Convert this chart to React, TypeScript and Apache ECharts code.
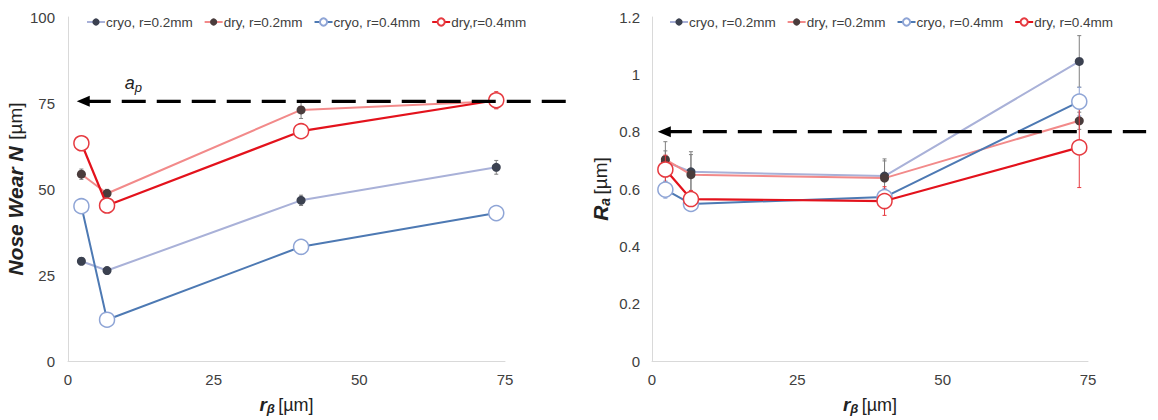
import React, { useEffect, useRef } from "react";
import * as echarts from "echarts";

// r_beta positions (µm)
const rBeta = [2.3, 6.7, 40, 73.5];

// Left chart: Nose wear N [µm]
const noseCryo02 = [29, 26.3, 46.7, 56.3];
const noseDry02 = [54.3, 48.7, 73, 75.5];
const noseCryo04 = [45, 12, 33.2, 43];
const noseDry04 = [63.3, 45.2, 66.8, 75.8];
const noseErrCryo02 = [1, 1, 1.5, 2];
const noseErrDry02 = [1.5, 1.2, 2.5, 2];
const noseErrCryo04 = [0.6, 0.6, 1, 1];
const noseErrDry04 = [1, 1, 1.5, 2.5];

// Right chart: Ra [µm]
const raCryo02 = [0.695, 0.66, 0.645, 1.045];
const raDry02 = [0.703, 0.65, 0.638, 0.838];
const raCryo04 = [0.598, 0.548, 0.572, 0.905];
const raDry04 = [0.668, 0.565, 0.558, 0.745];
const raErrCryo02 = [0.07, 0.07, 0.06, 0.09];
const raErrDry02 = [0.03, 0.07, 0.06, 0.03];
const raErrCryo04 = [0.03, 0.02, 0.03, 0.05];
const raErrDry04 = [0.05, 0.03, 0.05, 0.14];

const apValue = 75.5;
const raLimit = 0.8;

const namesLeft = ["cryo, r=0.2mm", "dry, r=0.2mm", "cryo, r=0.4mm", "dry,r=0.4mm"];
const namesRight = ["cryo, r=0.2mm", "dry, r=0.2mm", "cryo, r=0.4mm", "dry, r=0.4mm"];

const FONT = "'Liberation Sans', Arial, sans-serif";
const AXIS_GRAY = "#d9d9d9";
const LABEL = "#404040";

const styles = [
  { line: "#a9b1d8", width: 2, marker: "#3b4150", hollow: false, border: "#3b4150", err: "#7f7f7f" },
  { line: "#f28a8a", width: 2, marker: "#4a3c3c", hollow: false, border: "#4a3c3c", err: "#7f7f7f" },
  { line: "#4d79b3", width: 2, marker: "#ffffff", hollow: true, border: "#8fa5d6", err: "#8fa5d6" },
  { line: "#e3121c", width: 2.2, marker: "#ffffff", hollow: true, border: "#e63a40", err: "#e63a40" },
];

function lineSeries(name: string, ys: number[], idx: number, grid: number) {
  const s = styles[idx];
  return {
    type: "line",
    name,
    xAxisIndex: grid,
    yAxisIndex: grid,
    data: rBeta.map((x, i) => [x, ys[i]]),
    symbol: "circle",
    symbolSize: s.hollow ? 15 : 9,
    showSymbol: true,
    lineStyle: { color: s.line, width: s.width },
    itemStyle: { color: s.marker, borderColor: s.border, borderWidth: s.hollow ? 1.5 : 0 },
    z: 3 + idx,
    emphasis: { disabled: true },
  };
}

function errSeries(ys: number[], errs: number[], idx: number, grid: number) {
  const s = styles[idx];
  return {
    type: "custom",
    name: "err" + grid + idx,
    xAxisIndex: grid,
    yAxisIndex: grid,
    data: rBeta.map((x, i) => [x, ys[i], errs[i]]),
    encode: { x: 0, y: 1 },
    z: 2 + idx,
    renderItem: (params: any, api: any) => {
      const x = api.value(0);
      const y = api.value(1);
      const e = api.value(2);
      const hi = api.coord([x, y + e]);
      const lo = api.coord([x, y - e]);
      const st = { stroke: s.err, lineWidth: 1 };
      return {
        type: "group",
        children: [
          { type: "line", shape: { x1: hi[0], y1: hi[1], x2: lo[0], y2: lo[1] }, style: st },
          { type: "line", shape: { x1: hi[0] - 2, y1: hi[1], x2: hi[0] + 2, y2: hi[1] }, style: st },
          { type: "line", shape: { x1: lo[0] - 2, y1: lo[1], x2: lo[0] + 2, y2: lo[1] }, style: st },
        ],
      };
    },
  };
}

function xAxis(grid: number) {
  return {
    type: "value",
    gridIndex: grid,
    min: 0,
    max: 75,
    interval: 25,
    axisLine: { show: true, lineStyle: { color: AXIS_GRAY, width: 1 } },
    axisTick: { show: false },
    splitLine: { show: false },
    axisLabel: { color: LABEL, fontSize: 15, fontFamily: FONT, margin: 11 },
    name: "{b|r}{s|β} {n|[µm]}",
    nameLocation: "middle",
    nameGap: 33,
    nameTextStyle: {
      rich: {
        b: { fontSize: 19, fontWeight: "bold", fontStyle: "italic", color: "#222", fontFamily: FONT },
        s: { fontSize: 13, fontWeight: "bold", fontStyle: "italic", color: "#222", fontFamily: FONT, padding: [8, 0, 0, 0] },
        n: { fontSize: 18, color: "#222", fontFamily: FONT },
      },
    },
  };
}

export default function App() {
  const ref = useRef<HTMLDivElement>(null);
  useEffect(() => {
    document.body.style.margin = "0";
    const chart = echarts.init(ref.current!, undefined, { renderer: "svg" });
    const leftVals = [noseCryo02, noseDry02, noseCryo04, noseDry04];
    const leftErrs = [noseErrCryo02, noseErrDry02, noseErrCryo04, noseErrDry04];
    const rightVals = [raCryo02, raDry02, raCryo04, raDry04];
    const rightErrs = [raErrCryo02, raErrDry02, raErrCryo04, raErrDry04];
    const series: any[] = [];
    leftVals.forEach((v, i) => series.push(errSeries(v, leftErrs[i], i, 0)));
    rightVals.forEach((v, i) => series.push(errSeries(v, rightErrs[i], i, 1)));
    leftVals.forEach((v, i) => series.push(lineSeries(namesLeft[i], v, i, 0)));
    rightVals.forEach((v, i) => series.push(lineSeries(namesRight[i], v, i, 1)));

    const legendCommon = {
      top: 10,
      itemWidth: 18,
      itemHeight: 9,
      itemGap: 11,
      textStyle: { color: LABEL, fontSize: 13.5, fontFamily: FONT, padding: [0, 0, 0, -4] },
      selectedMode: false,
    };

    chart.setOption({
      animation: false,
      backgroundColor: "#ffffff",
      textStyle: { fontFamily: FONT },
      grid: [
        { left: 68, top: 17, width: 437, height: 351 },
        { left: 652, top: 17, width: 436, height: 351 },
      ],
      legend: [
        { ...legendCommon, left: 81, data: namesLeft },
        { ...legendCommon, left: 664, data: namesRight },
      ],
      xAxis: [xAxis(0), xAxis(1)],
      yAxis: [
        {
          type: "value",
          gridIndex: 0,
          min: 0,
          max: 100,
          interval: 25,
          axisLine: { show: true, lineStyle: { color: AXIS_GRAY, width: 1 } },
          axisTick: { show: false },
          splitLine: { show: false },
          axisLabel: { color: LABEL, fontSize: 15, fontFamily: FONT, margin: 13 },
          name: "{b|Nose Wear N}  {n|[µm]}",
          nameLocation: "middle",
          nameGap: 38,
          nameTextStyle: {
            rich: {
              b: { fontSize: 21, fontWeight: "bold", fontStyle: "italic", color: "#222", fontFamily: FONT },
              n: { fontSize: 19, color: "#222", fontFamily: FONT },
            },
          },
        },
        {
          type: "value",
          gridIndex: 1,
          min: 0,
          max: 1.2,
          interval: 0.2,
          axisLine: { show: true, lineStyle: { color: AXIS_GRAY, width: 1 } },
          axisTick: { show: false },
          splitLine: { show: false },
          axisLabel: { color: LABEL, fontSize: 15, fontFamily: FONT, margin: 12 },
          name: "{b|R}{s|a} {n|[µm]}",
          nameLocation: "middle",
          nameGap: 40,
          nameTextStyle: {
            rich: {
              b: { fontSize: 21, fontWeight: "bold", fontStyle: "italic", color: "#222", fontFamily: FONT },
              s: { fontSize: 14, fontWeight: "bold", fontStyle: "italic", color: "#222", fontFamily: FONT, padding: [9, 0, 0, 0] },
              n: { fontSize: 19, color: "#222", fontFamily: FONT },
            },
          },
        },
      ],
      series,
    });

    // dashed reference arrows, positioned through the axes' scales
    const makeArrow = (grid: number, yVal: number, xStart: number, xEnd: number) => {
      const p0 = chart.convertToPixel({ gridIndex: grid } as any, [xStart, yVal]) as number[];
      const p1 = chart.convertToPixel({ gridIndex: grid } as any, [xEnd, yVal]) as number[];
      const tip = p0[0];
      const y = p0[1];
      return [
        {
          type: "line",
          shape: { x1: tip + 10, y1: y, x2: p1[0], y2: y },
          style: { stroke: "#000", lineWidth: 3.2, lineDash: [24, 11] },
          z: 20,
        },
        {
          type: "polygon",
          shape: { points: [[tip, y], [tip + 13, y - 5.5], [tip + 13, y + 5.5]] },
          style: { fill: "#000" },
          z: 20,
        },
      ];
    };
    const leftArrow = makeArrow(0, apValue, 1.5, 86.5);
    const rightArrow = makeArrow(1, raLimit, 1, 85);
    const apPix = chart.convertToPixel({ gridIndex: 0 } as any, [1.5, apValue]) as number[];
    chart.setOption({
      graphic: [
        ...leftArrow,
        ...rightArrow,
        {
          type: "text",
          x: apPix[0] + 48,
          y: apPix[1] - 29,
          z: 21,
          style: {
            text: "{a|a}{p|p}",
            rich: {
              a: { fontSize: 18, fontStyle: "italic", fill: "#222", fontFamily: FONT },
              p: { fontSize: 13, fontStyle: "italic", fill: "#222", fontFamily: FONT, padding: [9, 0, 0, 0] },
            },
          },
        },
      ],
    });
    return () => chart.dispose();
  }, []);
  return <div ref={ref} style={{ width: 1158, height: 420 }} />;
}
